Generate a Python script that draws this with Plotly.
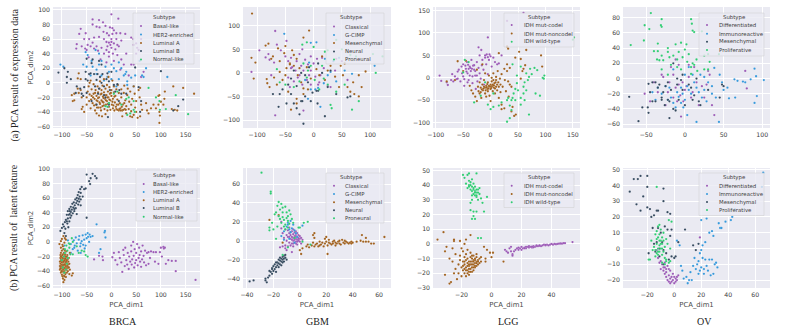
import plotly.graph_objects as go

W, H = 789, 329
PURPLE, BLUE, BROWN, NAVY, GREEN = "#9b59b6", "#3498db", "#a0601c", "#34495e", "#2ecc71"

# ---------- (a) expression data ----------
a_brca_basal = [(0,94),(14,88),(-38,87),(-25,86),(-17,83),(-38,80),(-30,77),(-24,76),(-12,78),(-3,76),(2,75),(5,72),(-62,74),(-65,67),(-52,68),(-16,70),(-9,68),(-5,65),(2,67),(10,68),(18,68),(28,67),(-70,53),(-71,47),(-55,60),(-45,60),(-35,62),(-25,63),(-15,60),(0,60),(10,60),(20,58),(40,62),(44,60),(-53,47),(-48,52),(-42,50),(-38,55),(-30,50),(-27,44),(-20,48),(-10,56),(-5,55),(0,56),(5,54),(12,52),(-10,45),(-5,42),(0,48),(8,46),(15,50),(-50,45),(-60,50),(-35,47),(-15,40),(-5,36),(3,40),(12,38),(20,32),(30,40),(-22,32),(45,52),(50,54),(52,48),(55,45),(60,60),(50,40),(-10,28),(5,30),(18,18),(25,25),(45,25),(65,15),(60,8),(35,10),(40,25),(-2,52),(-8,50),(-46,35)]
a_brca_her2 = [(-103,25),(-97,22),(-52,42),(-48,38),(-40,30),(-32,45),(-25,40),(-20,30),(-57,25),(-50,22),(-38,22),(-30,18),(-25,25),(-12,22),(0,25),(5,20),(15,28),(20,20),(30,15),(25,10),(10,16),(-5,15),(-30,12),(-42,10),(-20,10),(0,5),(15,5),(28,12),(40,7),(48,10),(65,8),(62,10),(113,8),(70,20),(45,-5),(32,-3),(10,-5),(-15,3),(-8,8),(32,2),(57,30)]
a_brca_luma = [(-80,-17),(-78,-25),(-75,-24),(-75,-15),(-68,-8),(-66,-14),(-62,-10),(-62,5),(-68,6),(-66,13),(-60,-20),(-58,-33),(-60,-36),(-55,-40),(-50,-30),(-50,-20),(-48,-12),(-46,-5),(-44,0),(-42,3),(-45,-25),(-42,-35),(-40,-18),(-40,-9),(-38,-28),(-36,-2),(-36,-15),(-34,-22),(-33,-38),(-32,-10),(-31,-30),(-30,-42),(-30,-18),(-28,-5),(-28,-25),(-27,-13),(-26,-34),(-25,-45),(-25,-20),(-24,-8),(-23,2),(-23,-29),(-22,-16),(-21,-38),(-20,-24),(-20,-10),(-19,-46),(-18,-32),(-18,-4),(-17,-19),(-16,-27),(-15,-13),(-15,5),(-14,-36),(-13,-22),(-12,-43),(-12,-8),(-11,-30),(-10,-17),(-9,-3),(-9,-25),(-8,-38),(-7,-12),(-6,-20),(-6,8),(-5,-28),(-5,-33),(-4,-6),(-3,-15),(-2,-24),(-2,-37),(0,-10),(0,-18),(1,-30),(2,3),(3,-35),(3,-22),(5,-13),(5,-5),(6,-38),(7,-27),(8,-18),(10,-36),(10,-9),(11,-30),(12,-23),(13,-3),(15,-38),(15,-14),(17,-28),(18,-35),(20,-9),(20,-20),(22,-38),(23,-30),(25,-14),(26,-4),(27,-36),(28,-24),(30,-32),(30,-42),(32,-17),(33,-8),(35,-36),(36,-26),(38,-46),(38,-12),(40,-30),(40,-39),(42,-22),(45,-5),(45,-44),(47,-15),(48,-34),(50,-25),(50,-40),(53,-48),(55,-10),(57,-20),(58,-7),(60,-30),(62,-37),(58,-46),(70,-28),(72,-38),(75,-42),(80,-35),(85,-30),(90,-35),(95,-18),(97,-17),(97,-40),(98,-45),(97,-55),(100,-26),(105,-30),(108,-12),(107,-22),(125,-5),(128,-37),(122,-36),(133,-38),(145,-7),(167,-15),(95,-30),(42,-47),(22,-46),(-44,-16),(-41,-23),(-37,-20),(-35,-31),(-33,-14),(-30,-24),(-29,-34),(-27,-21),(-24,-27),(-22,-34),(-20,-15),(-18,-26),(-16,-21),(-15,-31),(-13,-17),(-11,-24),(-8,-20),(-7,-29),(-4,-23),(-1,-14),(2,-26),(4,-31),(6,-19),(9,-33),(12,-37),(14,-30),(16,-36),(19,-38),(21,-33),(24,-37),(26,-28),(29,-37)]
a_brca_lumb = [(-107,14),(-95,20),(-88,15),(-90,8),(-82,5),(-90,0),(-70,-5),(-72,-14),(-63,-8),(-57,-18),(-55,-6),(-52,5),(-50,-14),(-48,3),(-45,12),(-42,13),(-52,15),(-40,27),(-38,32),(-35,12),(-33,-5),(-30,4),(-28,12),(-27,-15),(-25,-8),(-23,8),(-20,0),(-18,12),(-15,-5),(-12,-20),(-10,5),(-8,13),(-5,2),(-3,-10),(0,15),(5,-3),(8,-12),(12,-2),(16,-10),(20,-15),(-7,-47),(-20,25),(-25,30),(-50,33),(48,21),(55,-6),(100,16),(145,-23),(135,-32),(125,-38),(60,-25),(30,-15),(-40,-25),(-30,-30),(-60,-15),(58,-40),(15,-25),(-15,-17),(-5,-30)]
a_brca_norm = [(75,-7),(90,-20),(97,-25),(110,-36),(98,-37),(155,-43),(45,-37),(47,-40),(38,-42),(32,-44),(-8,-33),(-12,-32),(-5,-28),(5,-15),(12,-12),(30,-22),(45,-25),(35,-20),(130,-17),(20,-30)]

a_gbm_class = [(-96,48),(-68,89),(-65,60),(-48,68),(-80,40),(-58,48),(-85,33),(-78,28),(-70,22),(-50,35),(-45,25),(-40,32),(-38,12),(-30,25),(-25,40),(-32,5),(-22,15),(-18,5),(-28,-10),(-15,28),(-10,18),(-8,-5),(-5,5),(0,20),(3,-8),(8,-25),(12,-5),(18,10),(25,-28),(30,-30),(38,5),(-110,2),(-68,-90),(-75,-5),(-45,-10),(-42,-30),(-35,-18),(-20,-25),(-25,-5),(-12,-15),(-5,-25),(6,30),(15,32),(10,-20),(40,30),(50,25),(60,-15),(-20,50),(-5,35),(-40,10),(-18,-80)]
a_gbm_gcimp = [(-52,83),(-5,64),(5,65),(35,25),(45,32),(68,-2),(55,5),(25,-5),(30,2),(18,-22),(8,-32),(-5,-35),(-15,-15),(12,-72),(-10,-55),(20,30),(-8,22),(3,-35),(40,-18),(108,15)]
a_gbm_mes = [(-109,126),(-110,32),(-103,22),(-106,-12),(-85,58),(-80,62),(-75,30),(-72,35),(-63,52),(-60,25),(-52,42),(-50,57),(-48,10),(-42,20),(-38,48),(-35,15),(-30,30),(-28,-5),(-18,75),(-8,90),(-60,2),(-83,-13),(-82,-22),(-78,-30),(-70,-10),(-65,-25),(-55,-15),(-45,-40),(-40,-78),(-30,-55),(-18,-45),(-10,-35),(-42,18),(-25,10),(-22,-20),(-18,-33),(-12,12),(-5,-12),(5,8),(10,-5),(20,-15),(25,5),(30,15),(38,-8),(45,-30),(48,15),(52,-5),(60,-30),(70,-20),(80,-50),(72,-45),(85,-30),(92,3),(80,-5),(15,35),(-35,38),(-50,-5),(-30,-65),(65,-40),(55,20)]
a_gbm_neu = [(-62,-72),(-72,-45),(-60,-45),(-55,-35),(-48,-65),(-40,-45),(-35,-65),(-30,-75),(-22,-60),(-18,-108),(-25,-88),(-15,-50),(-10,-20),(-5,-60),(5,-38),(8,-38),(20,-92),(25,-30),(40,-45),(-30,-28),(-40,-12),(-35,5),(-22,0),(-15,-5),(-8,12),(8,20),(15,0),(30,5),(-45,-25),(-20,-60),(-2,-42),(7,-65),(60,-52),(65,-50)]
a_gbm_pro = [(-20,60),(-12,65),(0,55),(20,45),(25,48),(40,70),(50,50),(65,38),(75,35),(105,40),(122,35),(110,0),(-65,8),(-60,-20),(-50,-25),(-35,-30),(-25,-18),(-18,20),(-12,-10),(-5,15),(2,-15),(10,-35),(18,-12),(25,-25),(30,-68),(32,-75),(40,-40),(55,-25),(68,-78),(80,-60),(-10,5),(15,15)]

a_lgg_code = [(-93,5),(-90,-7),(-80,-10),(-78,-16),(-72,-5),(-70,8),(-65,3),(-62,-3),(-60,14),(-58,18),(-55,-8),(-53,25),(-52,10),(-50,30),(-48,-3),(-48,-18),(-45,20),(-43,35),(-42,10),(-40,-5),(-38,25),(-36,15),(-35,40),(-33,-12),(-32,27),(-30,18),(-28,5),(-27,-25),(-25,35),(-24,-8),(-22,22),(-20,10),(-20,50),(-18,-2),(-17,62),(-16,28),(-15,40),(-13,18),(-12,-15),(-10,45),(-8,30),(-7,52),(-5,8),(-3,40),(0,48),(2,25),(5,45),(8,35),(12,30),(-22,68),(-5,90),(-60,-2),(-50,3),(-42,-10),(-28,15),(20,50),(15,32),(-68,-8),(-40,20),(-25,5),(30,127),(60,145),(-46,27),(-41,29),(-37,22),(-34,20),(-30,28),(-44,14),(-38,5),(-33,3),(-10,50),(-5,46),(-2,52)]
a_lgg_non = [(-80,-8),(-65,-5),(-60,37),(-50,15),(-45,38),(-38,-18),(-35,-28),(-32,-35),(-28,-42),(-25,-52),(-25,18),(-23,-20),(-22,-30),(-20,-10),(-20,-35),(-18,-22),(-17,-45),(-15,-15),(-15,30),(-14,-28),(-12,-5),(-12,-20),(-10,-35),(-10,10),(-8,-18),(-8,-42),(-6,-25),(-5,-10),(-5,-30),(-3,-20),(-3,5),(-2,-40),(0,-15),(0,-25),(0,-52),(2,0),(2,-8),(3,-18),(4,-30),(5,10),(6,-22),(7,-12),(8,-35),(10,2),(10,-5),(10,-20),(12,-28),(13,15),(14,-10),(15,-45),(17,-2),(18,-15),(20,8),(20,-60),(22,-20),(25,20),(26,-5),(28,-30),(30,15),(30,30),(32,-8),(33,-42),(35,-15),(38,-20),(25,-68),(38,-75),(40,-65),(43,-85),(46,-82),(20,-70),(18,-32),(32,65),(45,45),(52,58),(55,42),(65,62),(63,28),(58,15),(55,-2),(92,50),(94,25),(60,20),(35,22),(-3,-18),(-10,-22),(-6,-14),(2,-20),(30,70),(15,55),(-16,-26),(-13,-24),(-9,-28),(-7,-21),(-4,-24),(-1,-19),(1,-23),(4,-15),(6,-17),(8,-24),(9,-10),(12,-15),(15,-20),(5,-5),(-18,-32)]
a_lgg_wild = [(-47,40),(-50,12),(-40,35),(-30,-55),(-18,-40),(-10,-10),(-5,-60),(0,-70),(5,-65),(15,-62),(20,-55),(30,-50),(32,-45),(35,-62),(38,-50),(40,-45),(42,-35),(45,-50),(30,-98),(35,-90),(38,-72),(45,-25),(48,-12),(50,-28),(55,-45),(60,-35),(62,-50),(55,-60),(70,-82),(60,-20),(62,-10),(65,-28),(68,-5),(70,2),(65,10),(72,20),(75,8),(80,22),(85,17),(82,-35),(90,-40),(95,0),(97,-2),(98,5),(55,25),(48,5),(40,30),(5,-35),(150,85),(152,90)]

a_ov_diff = [(-52,-20),(-45,-30),(-25,-35),(-22,-18),(-20,-5),(-15,-25),(-15,5),(-12,-12),(-10,-30),(-8,-8),(-6,-22),(-5,-50),(-3,-5),(0,-15),(2,-10),(5,2),(8,-25),(10,-18),(12,15),(15,-5),(18,-35),(22,-10),(25,-25),(28,-8),(30,10),(35,-35),(38,-48),(78,10),(80,-13),(-30,5),(-28,2),(-8,18),(-12,25),(-18,15),(5,18),(32,5),(-2,-30),(-40,-5),(-35,-18)]
a_ov_imm = [(-42,-18),(-38,-28),(-35,-12),(-30,-20),(-25,-10),(-22,-28),(-20,-12),(-18,-25),(-15,-32),(-12,-38),(-10,-18),(-8,-24),(-5,-12),(-5,-32),(-3,-20),(-2,-38),(0,5),(0,-28),(3,-48),(5,-15),(5,15),(8,-20),(10,5),(12,-5),(15,-12),(15,-57),(18,-18),(20,5),(22,-25),(25,-15),(25,2),(28,-30),(30,-5),(35,-20),(38,14),(40,-25),(44,-57),(45,5),(48,-5),(50,-15),(55,-12),(57,-26),(65,-25),(64,-1),(68,-3),(75,-4),(78,-5),(85,-1),(90,13),(92,3),(93,-23),(90,-32),(102,-2),(35,-10),(-15,12),(3,-10)]
a_ov_mes = [(-72,-24),(-60,-56),(-55,-38),(-48,-38),(-47,-45),(-47,-7),(-42,-5),(-38,-5),(-45,-18),(-42,-30),(-38,-30),(-35,-12),(-33,-8),(-30,-28),(-28,-18),(-26,-35),(-25,-10),(-22,-5),(-22,-28),(-20,-30),(-20,-52),(-18,-15),(-15,-40),(-12,-42),(-10,-8),(-8,-28),(-5,-2),(-3,-15),(0,-35),(5,-8),(8,-12),(10,-28),(15,0),(18,-30),(20,-35),(12,-22),(30,-15),(45,-25),(48,-8),(50,-10),(-3,5),(-15,20),(-10,0),(-30,-25)]
a_ov_pro = [(-70,44),(-52,70),(-46,65),(-53,50),(-44,86),(-30,78),(-30,68),(-31,70),(8,78),(9,72),(10,63),(12,61),(-35,46),(-40,36),(-35,36),(-36,25),(-33,24),(-30,30),(-28,24),(-22,40),(-22,35),(-20,28),(-18,18),(-15,30),(-12,45),(-10,25),(-8,35),(-5,47),(-3,28),(0,38),(2,45),(3,22),(5,32),(8,15),(10,20),(12,18),(15,25),(16,10),(25,30),(32,22),(30,32),(44,32),(30,12),(25,12),(22,62),(-30,12),(-22,5),(-10,15),(-5,12),(8,6)]

# ---------- (b) latent feature ----------
b_brca_basal = [(2,-21),(8,-25),(12,-31),(15,-14),(17,-22),(20,-28),(22,-41),(24,-11),(25,-18),(27,-33),(28,-8),(30,-25),(32,-31),(33,-15),(35,-37),(36,-20),(38,-27),(40,-5),(40,-13),(41,-31),(42,-24),(44,0),(45,-19),(46,-35),(47,-10),(48,-29),(50,-15),(50,-25),(52,-3),(53,-32),(55,-22),(56,-8),(57,-18),(58,-27),(60,-13),(60,-34),(62,-24),(63,-5),(65,-19),(66,-28),(68,-12),(70,-32),(72,-15),(75,-14),(78,-22),(80,-13),(85,-14),(88,-27),(90,-14),(95,-30),(98,-14),(100,-8),(102,-20),(105,-7),(106,-9),(108,-8),(110,-30),(115,-25),(122,-26),(130,-26),(130,-40),(170,-52),(-35,-24),(-18,-20),(-17,-25),(-25,-19),(5,-15),(75,-30)]
b_brca_her2 = [(-95,-5),(-88,2),(-82,-3),(-78,-10),(-76,2),(-74,-5),(-72,6),(-70,-2),(-68,-12),(-66,3),(-65,8),(-63,-6),(-62,-15),(-60,1),(-58,9),(-57,-4),(-55,3),(-54,-9),(-52,10),(-50,5),(-48,12),(-47,7),(-45,0),(-44,10),(-42,7),(-38,8),(-30,24),(-14,13),(-12,6),(-13,15),(-22,-10),(-25,-15),(-75,-8),(-82,-15),(-62,-2),(-52,-5)]
b_brca_luma = [(-104,-38),(-103,-30),(-103,-22),(-102,-15),(-102,-42),(-102,-8),(-101,-27),(-101,-35),(-100,-19),(-100,-45),(-100,-12),(-100,-31),(-99,-24),(-99,-38),(-99,-4),(-98,-50),(-98,-28),(-98,-17),(-98,-33),(-97,-42),(-97,-22),(-97,-55),(-97,-10),(-96,-36),(-96,-26),(-96,-46),(-96,-15),(-95,-31),(-95,-40),(-95,-20),(-95,-52),(-94,-27),(-94,-35),(-94,-12),(-94,-23),(-93,-44),(-93,-30),(-93,-17),(-92,-38),(-92,-25),(-92,-48),(-91,-21),(-91,-33),(-91,-13),(-90,-29),(-90,-42),(-90,-36),(-89,-24),(-89,-18),(-88,-31),(-88,-40),(-87,-27),(-86,-22),(-86,-35),(-85,-44),(-85,-30),(-84,-38),(-84,-15),(-80,-46),(-78,-43),(-105,-3),(-102,1),(-100,4),(-97,8),(-94,5),(-92,3),(-95,-1),(-98,-6),(-102,-25),(-100,-36),(-98,-40),(-96,-32),(-94,-42),(-92,-28),(-90,-20),(-104,-33),(-103,-18),(-101,-21),(-99,-47),(-95,-47),(-104,-27),(-103,-36),(-102,-20),(-102,-33),(-101,-40),(-100,-24),(-100,-28),(-99,-18),(-99,-33),(-98,-22),(-98,-36),(-97,-27),(-97,-31),(-97,-37),(-96,-20),(-96,-41),(-95,-25),(-95,-36),(-94,-18),(-94,-31),(-93,-23),(-93,-37),(-92,-20),(-92,-33),(-91,-27),(-91,-38),(-90,-25),(-89,-33),(-88,-23),(-87,-35)]
b_brca_lumb = [(-103,15),(-100,19),(-98,24),(-96,21),(-95,12),(-94,27),(-93,18),(-92,8),(-92,30),(-90,37),(-89,25),(-88,32),(-88,42),(-87,20),(-86,37),(-85,45),(-85,28),(-84,38),(-83,33),(-82,48),(-82,41),(-81,36),(-80,44),(-79,52),(-78,39),(-77,47),(-76,54),(-75,42),(-74,50),(-73,58),(-72,46),(-71,53),(-70,60),(-70,38),(-69,56),(-68,64),(-67,51),(-66,59),(-66,68),(-65,55),(-64,62),(-63,72),(-62,67),(-62,50),(-60,75),(-58,62),(-55,72),(-52,73),(-50,33),(-50,92),(-45,83),(-43,79),(-38,93),(-42,87),(-30,87),(-33,90),(-62,58),(-75,45),(-84,42),(-90,28)]
b_brca_norm = [(-100,-25),(-98,-35),(-96,-20),(-94,-10),(-92,-38),(-91,-5),(-90,-30),(-89,-12),(-88,-22),(-86,-2),(-85,-8),(-84,-3),(-80,5),(-83,-17),(-78,-17),(-70,-6),(-66,-15),(-60,-12),(-55,-13),(-52,-18),(-48,-20),(-95,-42),(-94,-15),(-78,0)]

b_gbm_class = [(-14,13),(-13,8),(-12,3),(-11,-5),(-11,12),(-10,6),(-10,0),(-9,-6),(-9,11),(-9,4),(-8,-2),(-8,8),(-8,14),(-7,-5),(-7,2),(-7,6),(-6,-3),(-6,10),(-6,4),(-5,0),(-5,7),(-5,12),(-5,-6),(-4,3),(-4,-2),(-4,9),(-4,5),(-3,-1),(-3,6),(-3,2),(-3,10),(-2,-4),(-2,4),(-2,1),(-2,8),(-1,3),(-1,0),(-1,6),(0,2),(0,-1),(0,5),(1,3),(2,1),(-10,-10),(-13,-6),(-15,-7),(-6,-12),(1,-3),(-11,-8),(-14,20),(-6,1),(-5,3),(-4,1),(-3,4),(-2,-1),(-7,9),(-5,-3),(-8,4),(-3,-3),(-1,2)]
b_gbm_gcimp = [(-9,19),(-7,21),(-5,17),(-10,15),(-8,12),(-6,13),(-4,11),(-12,10),(-3,8),(-7,9),(-2,4),(-14,5),(-4,-2),(-8,2),(2,16),(-9,17),(-12,1)]
b_gbm_mes = [(-23,22),(-16,27),(0,-10),(1,-14),(2,-8),(5,-6),(6,-4),(7,-7),(9,-5),(10,-2),(11,-6),(12,-4),(13,-3),(14,-6),(15,-1),(15,-5),(16,-4),(17,-2),(18,-6),(19,-3),(19,2),(20,4),(20,-1),(21,-5),(22,-2),(22,1),(23,-3),(24,-4),(25,-1),(25,-3),(26,0),(27,-5),(27,-2),(28,-3),(29,-1),(30,0),(30,-3),(31,-4),(32,1),(33,-2),(34,0),(34,-3),(35,-1),(36,-2),(37,-3),(38,-2),(39,-1),(39,-3),(40,-2),(43,-1),(47,6),(46,0),(48,-1),(50,-1),(50,3),(52,-1),(54,-3),(56,-3),(64,4),(21,-14),(11,8),(10,6),(11,3),(-13,-2)]
b_gbm_neu = [(-38,-43),(-35,-42),(-26,-42),(-26,-40),(-25,-44),(-24,-39),(-23,-37),(-23,-32),(-22,-33),(-21,-29),(-21,-35),(-20,-27),(-20,-32),(-19,-30),(-19,-25),(-18,-28),(-18,-33),(-17,-26),(-17,-23),(-16,-28),(-16,-24),(-16,-20),(-15,-25),(-15,-21),(-15,-18),(-14,-22),(-14,-26),(-14,-19),(-13,-20),(-13,-17),(-13,-23),(-12,-19),(-12,-16),(-12,-22),(-11,-18),(-10,-20),(-21,-30),(-18,-23),(-11,-15)]
b_gbm_pro = [(-29,72),(-22,52),(-22,50),(-16,41),(-14,39),(-17,37),(-13,35),(-11,36),(-15,33),(-18,30),(-13,30),(-10,30),(-8,32),(-9,26),(-19,28),(-16,26),(-13,25),(-10,24),(-7,28),(-15,23),(-12,22),(-9,21),(-14,19),(-11,17),(-8,18),(-17,15),(-12,15),(-9,14),(-20,12),(-23,11),(-21,19),(-23,14),(-5,19),(0,14),(3,19),(6,20),(-1,14),(2,-1),(-11,12),(-18,2),(-6,23),(-13,-15),(-9,-7),(8,-4),(-4,3)]

b_lgg_code = [(9,-4),(10,-5),(11,-6),(12,-3),(13,-2),(14,-7),(14,-8),(15,-5),(16,-4),(17,-3),(18,-4),(19,-3),(20,-4),(20,-2),(21,-3),(22,-2.5),(23,-3),(24,-2),(25,-2.5),(25,-1.5),(26,-2),(27,-2.5),(28,-1.5),(29,-2),(30,-1.5),(30,-1),(31,-1.5),(32,-1),(33,-1.5),(34,-1),(35,-0.5),(36,-1),(37,-0.5),(38,-1),(39,-0.5),(40,0),(41,-0.5),(42,0),(43,-0.2),(44,0),(45,0.2),(46,0.3),(47,0.2),(48,0.5),(49,0.5),(54,1.3),(13,-5),(18,-2.5),(23,-2),(28,-2.3),(22,-3),(27,-1.8),(32,-1.2),(36,-0.6)]
b_lgg_non = [(-36,3),(-32,8),(-31,-5),(-31,-21),(-30,-2),(-28,-10),(-28,-27),(-27,-26),(-26,-3),(-26,-12),(-25,2),(-25,3),(-25,-20),(-24,-7),(-24,-17),(-23,-24),(-22,-14),(-22,-20),(-21,-8),(-21,2),(-21,-11),(-20,-3),(-20,-16),(-20,-22),(-19,-5),(-19,-12),(-19,-18),(-18,-9),(-18,-14),(-18,-20),(-17,-11),(-17,-16),(-17,-7),(-17,-22),(-16,-13),(-16,-18),(-16,-10),(-16,-4),(-15,-12),(-15,-15),(-15,-19),(-15,-21),(-14,-9),(-14,-14),(-14,-17),(-14,-6),(-13,-12),(-13,-16),(-13,-19),(-12,-8),(-12,-11),(-12,-14),(-12,-18),(-11,-10),(-11,-13),(-11,-16),(-10,-7),(-10,-12),(-10,-15),(-9,-11),(-9,-14),(-8,-10),(-8,-13),(-7,-12),(-7,-9),(-14,6),(-18,0),(-17,3),(-5,-2),(-4,-12),(-4,-10),(-1,-6),(0,-9),(1,-6),(8,-12),(-3,-4),(-18,-12),(-17,-18),(-16,-15),(-16,-20),(-15,-17),(-15,-14),(-14,-12),(-14,-19),(-13,-14),(-13,-10),(-12,-16),(-12,-12),(-11,-15),(-11,-11),(-10,-13),(-10,-9),(-9,-12),(-13,-8),(-19,-15),(-18,-17)]
b_lgg_wild = [(-19,47),(-18,45),(-17,41),(-16,47),(-16,38),(-15,48),(-15,43),(-15,40),(-14,37),(-14,42),(-13,36),(-13,39),(-13,44),(-12,34),(-12,37),(-12,41),(-11,33),(-11,36),(-11,39),(-10,32),(-10,35),(-10,48),(-9,37),(-9,30),(-8,34),(-8,38),(-7,31),(-6,28),(-5,22),(-3,32),(-13,30),(-14,23),(-12,22),(-12,19),(-10,22),(-11,17),(-13,17),(-9,4),(-7,4),(-14,28),(-15,39),(-14,40),(-13,33),(-12,38),(-11,35),(-10,37),(-10,33),(-9,35)]

b_ov_diff = [(-12,-6),(-10,-8),(-9,-10),(-8,-12),(-8,-14),(-7,-9),(-7,-16),(-7,-12),(-6,-15),(-6,-18),(-5,-11),(-5,-20),(-4,-13),(-4,-17),(-4,-21),(-3,-14),(-3,-19),(-3,-22),(-2,-18),(-2,-21),(-1,-16),(-1,-20),(0,-22),(0,-18),(1,-21),(1,-19),(2,-20),(2,-18),(3,-17),(-6,-13),(19,7),(-13,-1),(-11,-9),(-10,-13)]
b_ov_imm = [(5,-11),(6,-14),(7,-19),(9,-18),(10,-22),(11,-20),(12,-15),(13,-20),(14,-11),(15,-6),(16,-13),(17,-10),(18,-8),(18,-16),(19,-14),(19,-3),(20,-12),(20,-1),(21,-6),(21,2),(22,-16),(22,-13),(23,-7),(23,4),(24,-11),(25,-14),(26,-7),(27,-17),(28,-7),(29,-16),(29,8),(30,-10),(31,-9),(32,-12),(33,16),(34,13),(35,13),(38,17),(42,18),(43,20),(45,25),(26,10),(28,11),(24,19),(20,18),(66,48),(65,39),(4,2),(2,5)]
b_ov_mes = [(-33,36),(-30,44),(-25,46),(-27,44),(-28,28),(-25,24),(-23,33),(-20,46),(-20,39),(-20,26),(-18,25),(-17,20),(-15,21),(-13,24),(-12,24),(-8,38),(-8,30),(-5,23),(-3,22),(-16,13),(-12,13),(-10,10),(-7,14),(-5,12),(-3,8),(-2,12),(8,12),(-15,3),(-13,4),(-11,0),(-9,4),(-8,-1),(-6,-3),(-4,-7),(-2,-5),(0,-6),(1,-5),(3,4),(-19,-3),(-14,-2),(-8,-10),(-11,-5),(14,2),(16,-1),(18,3)]
b_ov_pro = [(-17,5),(-15,1),(-14,9),(-14,-1),(-13,3),(-13,-3),(-13,11),(-12,14),(-12,7),(-12,-4),(-11,2),(-11,9),(-11,-2),(-10,5),(-10,0),(-10,12),(-9,-4),(-9,7),(-9,3),(-8,-2),(-8,10),(-8,5),(-7,1),(-7,-6),(-6,6),(-6,-8),(-5,3),(-4,-9),(-3,-8),(-13,39),(-4,18),(-2,17),(-6,-7),(-19,-7),(-18,-7),(-14,-5),(-16,-1),(-3,0),(-11,15),(-9,-9),(-7,-10),(-12,0),(-13,6),(-11,5),(-10,3),(-9,0),(-12,-2)]

brca_names = ["Basal-like", "HER2-enriched", "Luminal A", "Luminal B", "Normal-like"]
gbm_names = ["Classical", "G-CIMP", "Mesenchymal", "Neural", "Proneural"]
lgg_names = ["IDH mut-codel", "IDH mut-noncodel", "IDH wild-type"]
ov_names = ["Differentiated", "Immunoreactive", "Mesenchymal", "Proliferative"]

c5 = [PURPLE, BLUE, BROWN, NAVY, GREEN]
c3 = [PURPLE, BROWN, GREEN]
c4 = [PURPLE, BLUE, NAVY, GREEN]

panels = [
    dict(box=(53,7,200,128), xr=(-118,179), yr=(-62,104), xt=[-100,-50,0,50,100,150], yt=[-60,-40,-20,0,20,40,60,80,100],
         names=brca_names, cols=c5, series=[a_brca_basal,a_brca_her2,a_brca_luma,a_brca_lumb,a_brca_norm],
         leg=(133,13,194,64,164,18,[26,34.5,43,51,59.5],141,150.5)),
    dict(box=(243,7,391,128), xr=(-125,137), yr=(-117,140), xt=[-100,-50,0,50,100], yt=[-100,-50,0,50,100],
         names=gbm_names, cols=c5, series=[a_gbm_class,a_gbm_gcimp,a_gbm_mes,a_gbm_neu,a_gbm_pro],
         leg=(326,13,384,64,351,18,[26.5,35,43,51.5,59.5],334,343)),
    dict(box=(433,7,580,128), xr=(-105,163), yr=(-112,158), xt=[-100,-50,0,50,100,150], yt=[-100,-50,0,50,100,150],
         names=lgg_names, cols=c3, series=[a_lgg_code,a_lgg_non,a_lgg_wild],
         leg=(504,13,574,47,539,17.5,[25,33.5,41.7],511.7,521.7)),
    dict(box=(623,7,770,128), xr=(-80,110), yr=(-65,94), xt=[-50,0,50,100], yt=[-60,-40,-20,0,20,40,60,80],
         names=ov_names, cols=c4, series=[a_ov_diff,a_ov_imm,a_ov_mes,a_ov_pro],
         leg=(699,13,764,56,734,17.5,[25,33.7,41.7,50],707,717)),
    dict(box=(53,168,200,288), xr=(-118,179), yr=(-63,101), xt=[-100,-50,0,50,100,150], yt=[-60,-40,-20,0,20,40,60,80,100],
         names=brca_names, cols=c5, series=[b_brca_basal,b_brca_her2,b_brca_luma,b_brca_lumb,b_brca_norm],
         leg=(136,170,197,221,164,175,[184,192,200.3,208,216.7],143.7,150.7)),
    dict(box=(243,168,391,288), xr=(-43,69), yr=(-50,77), xt=[-40,-20,0,20,40,60], yt=[-40,-20,0,20,40,60],
         names=gbm_names, cols=c5, series=[b_gbm_class,b_gbm_gcimp,b_gbm_mes,b_gbm_neu,b_gbm_pro],
         leg=(326,173,384,223,351,177.3,[185.7,194,202.3,210.3,218.3],334,343)),
    dict(box=(433,168,580,288), xr=(-39,59), yr=(-30,51.7), xt=[-20,0,20,40], yt=[-30,-20,-10,0,10,20,30,40,50],
         names=lgg_names, cols=c3, series=[b_lgg_code,b_lgg_non,b_lgg_wild],
         leg=(504,173,574,207.5,539,177.3,[185.7,194,202.3],511.7,521.7)),
    dict(box=(623,168,770,288), xr=(-38,71), yr=(-25,51), xt=[-20,0,20,40,60], yt=[-20,-10,0,10,20,30,40,50],
         names=ov_names, cols=c4, series=[b_ov_diff,b_ov_imm,b_ov_mes,b_ov_pro],
         leg=(699,173,764,215.5,734,177.3,[185.7,194,202,210],707,717)),
]

px = lambda v: v / W
py = lambda v: 1 - v / H
TICK = dict(family="DejaVu Sans", size=6.2, color="#3d3d3d")
TITLE = dict(family="DejaVu Sans", size=6.9, color="#4a4a4a")
LEG = dict(family="DejaVu Sans", size=5.4, color="#3d3d3d")

fig = go.Figure()
shapes, anns = [], []
for i, p in enumerate(panels):
    n = "" if i == 0 else str(i + 1)
    x0, y0, x1, y1 = p["box"]
    for name, col, pts in zip(p["names"], p["cols"], p["series"]):
        fig.add_trace(go.Scatter(
            x=[q[0] for q in pts], y=[q[1] for q in pts], mode="markers", name=name,
            xaxis="x" + n, yaxis="y" + n, showlegend=False,
            marker=dict(size=2.3, color=col, line=dict(color="rgba(255,255,255,0.6)", width=0.15))))
    common = dict(showgrid=True, gridcolor="white", gridwidth=0.8, zeroline=False, showline=False,
                  ticks="", tickfont=TICK, automargin=False, ticklabelstandoff=2)
    xa = dict(domain=[px(x0), px(x1)], range=list(p["xr"]), tickvals=p["xt"], anchor="y" + n, **common)
    ya = dict(domain=[py(y1), py(y0)], range=list(p["yr"]), tickvals=p["yt"], anchor="x" + n, **common)
    if i >= 4:
        xa["title"] = dict(text="PCA_dim1", font=TITLE, standoff=4)
    if i in (0, 4):
        ya["title"] = dict(text="PCA_dim2", font=TITLE, standoff=2)
    fig.update_layout({"xaxis" + n: xa, "yaxis" + n: ya})
    # compact seaborn-style legend (plotly's own legend cannot have rows this tight)
    lx0, ly0, lx1, ly1, tx, ty, rows, mx, labx = p["leg"]
    shapes.append(dict(type="rect", xref="paper", yref="paper", x0=px(lx0), x1=px(lx1), y0=py(ly1), y1=py(ly0),
                       fillcolor="rgba(234,234,242,0.8)", line=dict(color="rgba(204,204,204,0.8)", width=0.6)))
    anns.append(dict(text="Subtype", x=px(tx), y=py(ty), xref="paper", yref="paper", showarrow=False,
                     xanchor="center", yanchor="middle", font=LEG))
    for name, col, ry in zip(p["names"], p["cols"], rows):
        shapes.append(dict(type="circle", xref="paper", yref="paper", x0=px(mx - 1), x1=px(mx + 1),
                           y0=py(ry + 1), y1=py(ry - 1), fillcolor=col, line=dict(width=0)))
        anns.append(dict(text=name, x=px(labx), y=py(ry), xref="paper", yref="paper", showarrow=False,
                         xanchor="left", yanchor="middle", font=LEG))

SERIF = dict(family="Liberation Serif", size=10, color="#222222")
for text, cy in [("(a) PCA result of expression data", 75.5), ("(b) PCA result of  latent feature", 228)]:
    anns.append(dict(text=text, x=px(14), y=py(cy), xref="paper", yref="paper", showarrow=False, textangle=-90,
                     xanchor="center", yanchor="middle", font=SERIF))
for text, cx in [("BRCA", 123), ("GBM", 317.5), ("LGG", 508), ("OV", 704)]:
    anns.append(dict(text=text, x=px(cx), y=py(321), xref="paper", yref="paper", showarrow=False,
                     xanchor="center", yanchor="middle", font=SERIF))

fig.update_layout(width=W, height=H, margin=dict(l=0, r=0, t=0, b=0), paper_bgcolor="white", plot_bgcolor="#eaeaf2",
                  showlegend=False, shapes=shapes, annotations=anns, hovermode=False)
fig.write_html("out.html", config=dict(displayModeBar=False),
               post_script="document.body.style.margin='0';document.documentElement.style.overflow='hidden';")
